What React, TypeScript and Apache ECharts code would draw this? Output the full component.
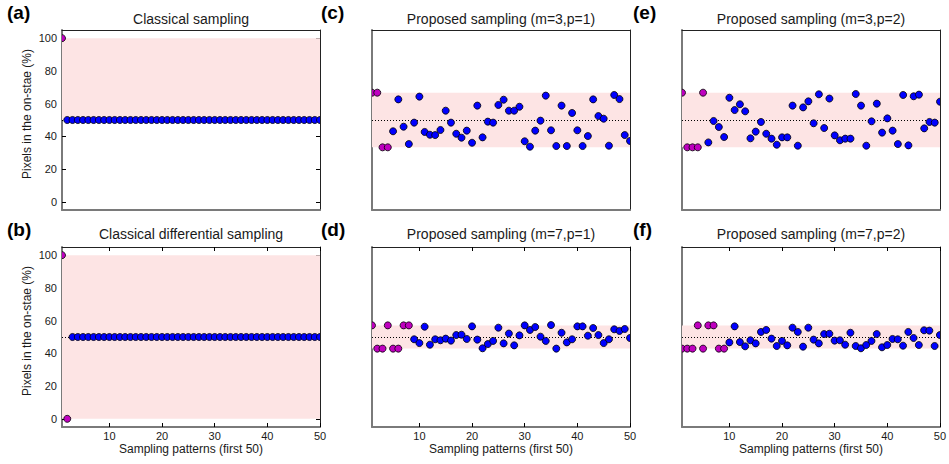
import React, { useEffect, useRef } from "react";
import * as echarts from "echarts";

// ---------- data ----------
const panelLabels = ["(a)", "(b)", "(c)", "(d)", "(e)", "(f)"];
const panelTitles = [
  "Classical sampling",
  "Classical differential sampling",
  "Proposed sampling (m=3,p=1)",
  "Proposed sampling (m=7,p=1)",
  "Proposed sampling (m=3,p=2)",
  "Proposed sampling (m=7,p=2)",
];
const yAxisTitle = "Pixels in the on-stae (%)";
const xAxisTitle = "Sampling patterns (first 50)";

const xTickValues = [10, 20, 30, 40, 50];
const yTickValues = [0, 20, 40, 60, 80, 100];

const valuesA = [
  100, 50, 50, 50, 50, 50, 50, 50, 50, 50, 50, 50, 50, 50, 50, 50, 50, 50, 50, 50, 50, 50, 50, 50, 50,
  50, 50, 50, 50, 50, 50, 50, 50, 50, 50, 50, 50, 50, 50, 50, 50, 50, 50, 50, 50, 50, 50, 50, 50, 50,
];
const valuesB = [
  100, 0, 50, 50, 50, 50, 50, 50, 50, 50, 50, 50, 50, 50, 50, 50, 50, 50, 50, 50, 50, 50, 50, 50, 50,
  50, 50, 50, 50, 50, 50, 50, 50, 50, 50, 50, 50, 50, 50, 50, 50, 50, 50, 50, 50, 50, 50, 50, 50, 50,
];
const valuesC = [
  66.7, 66.7, 33.3, 33.3, 43.1, 62.6, 45.9, 35.3, 48.4, 64.3, 42.7, 41.0, 40.8, 43.9, 55.7, 48.4, 41.6,
  39.2, 43.5, 36.1, 58.8, 39.4, 49.0, 48.4, 59.2, 62.4, 55.7, 55.7, 58.1, 37.0, 33.7, 43.5, 49.6, 64.9,
  43.7, 34.1, 58.8, 34.1, 54.3, 43.7, 34.1, 40.2, 62.6, 52.4, 50.8, 34.3, 65.3, 62.8, 40.8, 37.2,
];
const valuesD = [
  57.1, 42.9, 42.9, 57.1, 42.9, 42.9, 57.1, 57.1, 48.6, 46.3, 56.3, 45.3, 48.6, 48.0, 49.0, 47.8, 51.2,
  51.4, 48.8, 56.5, 48.4, 43.1, 45.7, 47.6, 55.7, 46.1, 52.1, 44.9, 51.0, 57.1, 54.3, 56.1, 50.2, 47.6,
  57.3, 42.9, 52.6, 46.7, 48.6, 56.5, 56.5, 50.8, 55.5, 51.2, 46.3, 48.6, 54.7, 53.7, 54.9, 49.4,
];
const valuesE = [
  66.7, 33.3, 33.3, 33.3, 66.7, 36.3, 49.4, 45.7, 39.6, 63.6, 56.1, 59.6, 55.3, 38.8, 42.9, 48.8, 41.6,
  38.6, 34.9, 39.4, 39.4, 58.8, 34.3, 57.7, 61.4, 48.0, 65.7, 45.1, 63.1, 40.6, 37.6, 38.6, 38.6, 65.9,
  58.8, 34.3, 49.2, 60.0, 42.3, 51.0, 43.5, 35.3, 65.3, 34.5, 64.5, 65.5, 44.9, 48.8, 48.4, 61.2,
];
const valuesF = [
  42.9, 42.9, 42.9, 57.1, 42.9, 57.1, 57.1, 42.9, 42.9, 46.7, 56.5, 46.9, 44.3, 48.0, 46.1, 53.1, 54.3,
  49.0, 44.5, 47.6, 44.9, 55.7, 53.1, 44.1, 55.7, 48.4, 46.1, 51.8, 52.0, 47.8, 48.0, 45.3, 52.6, 44.5,
  43.1, 45.1, 47.6, 51.8, 43.7, 45.1, 48.8, 48.6, 44.7, 53.1, 49.4, 45.1, 54.1, 53.9, 44.5, 51.2,
];
const panelValues = [valuesA, valuesB, valuesC, valuesD, valuesE, valuesF];
// number of leading (initial, deterministic) patterns drawn in magenta
const highlightCounts = [1, 2, 4, 8, 5, 9];
const bandLow = [50, 0, 33.3, 42.9, 33.3, 42.9];
const bandHigh = [100, 100, 66.7, 57.1, 66.7, 57.1];
const meanLevel = [50, 50, 50, 50, 50, 50];

// ---------- styles ----------
const FONT = "'Liberation Sans', Arial, Helvetica, sans-serif";
const TEXT = "#1a1a1a";
const BLUE = "#0000ff";
const MAGENTA = "#bf00bf";
const PINK = "#fde4e4";
const colLefts = [62, 372, 682];
const rowTops = [30, 247];
const GW = 258;
const GH = 180;

function makeDotRenderer(color: string) {
  return (_params: any, api: any) => {
    const pt = api.coord([api.value(0), api.value(1)]);
    return {
      type: "circle",
      shape: { cx: pt[0], cy: pt[1], r: 3.5 },
      style: { fill: color, stroke: "#000", lineWidth: 0.8 },
    };
  };
}

export default function App() {
  const ref = useRef<HTMLDivElement>(null);
  useEffect(() => {
    const chart = echarts.init(ref.current!, null, { renderer: "svg" });
    const grids: any[] = [];
    const xAxes: any[] = [];
    const yAxes: any[] = [];
    const series: any[] = [];
    const graphics: any[] = [];
    const labelX = [7, 321, 633];
    const labelY = [12, 229];
    const titleY = [18.5, 234];

    panelValues.forEach((vals, p) => {
      const col = Math.floor(p / 2);
      const row = p % 2;
      const left = colLefts[col];
      const top = rowTops[row];
      grids.push({ left, top, width: GW, height: GH, containLabel: false });
      const showX = row === 1;
      const showY = col === 0;
      const tickStyle = { show: true, inside: true, length: 4, lineStyle: { color: "#000", width: 1 } };
      xAxes.push({
        type: "value",
        gridIndex: p,
        min: 1,
        max: 50,
        position: "bottom",
        axisLine: { show: true, onZero: false, lineStyle: { color: "#7a7a7a", width: 2 } },
        axisTick: showX ? { ...tickStyle, customValues: xTickValues } : { show: false },
        axisLabel: showX
          ? { show: true, customValues: xTickValues, margin: 3, fontSize: 11, color: TEXT, fontFamily: FONT }
          : { show: false },
        splitLine: { show: false },
      });
      xAxes.push({
        type: "value",
        gridIndex: p,
        min: 1,
        max: 50,
        position: "top",
        axisLine: { show: true, onZero: false, lineStyle: { color: "#222", width: 1 } },
        axisTick: showX ? { ...tickStyle, customValues: xTickValues } : { show: false },
        axisLabel: { show: false },
        splitLine: { show: false },
      });
      yAxes.push({
        type: "value",
        gridIndex: p,
        min: -5,
        max: 105,
        position: "left",
        axisLine: { show: true, onZero: false, lineStyle: { color: "#7a7a7a", width: 2 } },
        axisTick: showY ? { ...tickStyle, customValues: yTickValues } : { show: false },
        axisLabel: showY
          ? { show: true, customValues: yTickValues, margin: 5, fontSize: 11, color: TEXT, fontFamily: FONT }
          : { show: false },
        splitLine: { show: false },
      });
      yAxes.push({
        type: "value",
        gridIndex: p,
        min: -5,
        max: 105,
        position: "right",
        axisLine: { show: true, onZero: false, lineStyle: { color: "#222", width: 1 } },
        axisTick: showY ? { ...tickStyle, customValues: yTickValues } : { show: false },
        axisLabel: { show: false },
        splitLine: { show: false },
      });

      // band + mean line
      series.push({
        type: "line",
        xAxisIndex: 2 * p,
        yAxisIndex: 2 * p,
        data: [],
        z: 1,
        silent: true,
        markArea: {
          silent: true,
          itemStyle: { color: PINK, opacity: 1 },
          data: [[{ yAxis: bandLow[p] }, { yAxis: bandHigh[p] }]],
        },
        markLine: {
          silent: true,
          symbol: ["none", "none"],
          label: { show: false },
          lineStyle: { color: "#000", width: 1, type: [1, 2] },
          data: [{ yAxis: meanLevel[p] }],
        },
      });
      const n = highlightCounts[p];
      const pts = vals.map((v, i) => [i + 1, v]);
      series.push({
        type: "custom",
        xAxisIndex: 2 * p,
        yAxisIndex: 2 * p,
        z: 10,
        clip: true,
        silent: true,
        encode: { x: 0, y: 1 },
        renderItem: makeDotRenderer(BLUE),
        data: pts.slice(n),
      });
      series.push({
        type: "custom",
        xAxisIndex: 2 * p,
        yAxisIndex: 2 * p,
        z: 11,
        clip: true,
        silent: true,
        encode: { x: 0, y: 1 },
        renderItem: makeDotRenderer(MAGENTA),
        data: pts.slice(0, n),
      });

      graphics.push({
        type: "text",
        x: left + GW / 2,
        y: titleY[row],
        style: {
          text: panelTitles[p],
          fill: TEXT,
          font: `14px ${FONT}`,
          textAlign: "center",
          textVerticalAlign: "middle",
        },
      });
      graphics.push({
        type: "text",
        x: labelX[col],
        y: labelY[row],
        style: {
          text: panelLabels[p],
          fill: "#000",
          font: `bold 19px ${FONT}`,
          textAlign: "left",
          textVerticalAlign: "middle",
        },
      });
      if (showY) {
        graphics.push({
          type: "text",
          x: 27,
          y: top + GH / 2 - 6,
          rotation: Math.PI / 2,
          style: {
            text: yAxisTitle,
            fill: TEXT,
            font: `12px ${FONT}`,
            textAlign: "center",
            textVerticalAlign: "middle",
          },
        });
      }
      if (showX) {
        graphics.push({
          type: "text",
          x: left + GW / 2,
          y: 449,
          style: {
            text: xAxisTitle,
            fill: TEXT,
            font: `12px ${FONT}`,
            textAlign: "center",
            textVerticalAlign: "middle",
          },
        });
      }
    });

    chart.setOption({
      animation: false,
      backgroundColor: "#ffffff",
      textStyle: { fontFamily: FONT },
      grid: grids,
      xAxis: xAxes,
      yAxis: yAxes,
      series,
      graphic: graphics,
    });
    return () => chart.dispose();
  }, []);
  return (
    <div
      ref={ref}
      style={{ position: "absolute", left: 0, top: 0, width: 949, height: 464 }}
    />
  );
}
